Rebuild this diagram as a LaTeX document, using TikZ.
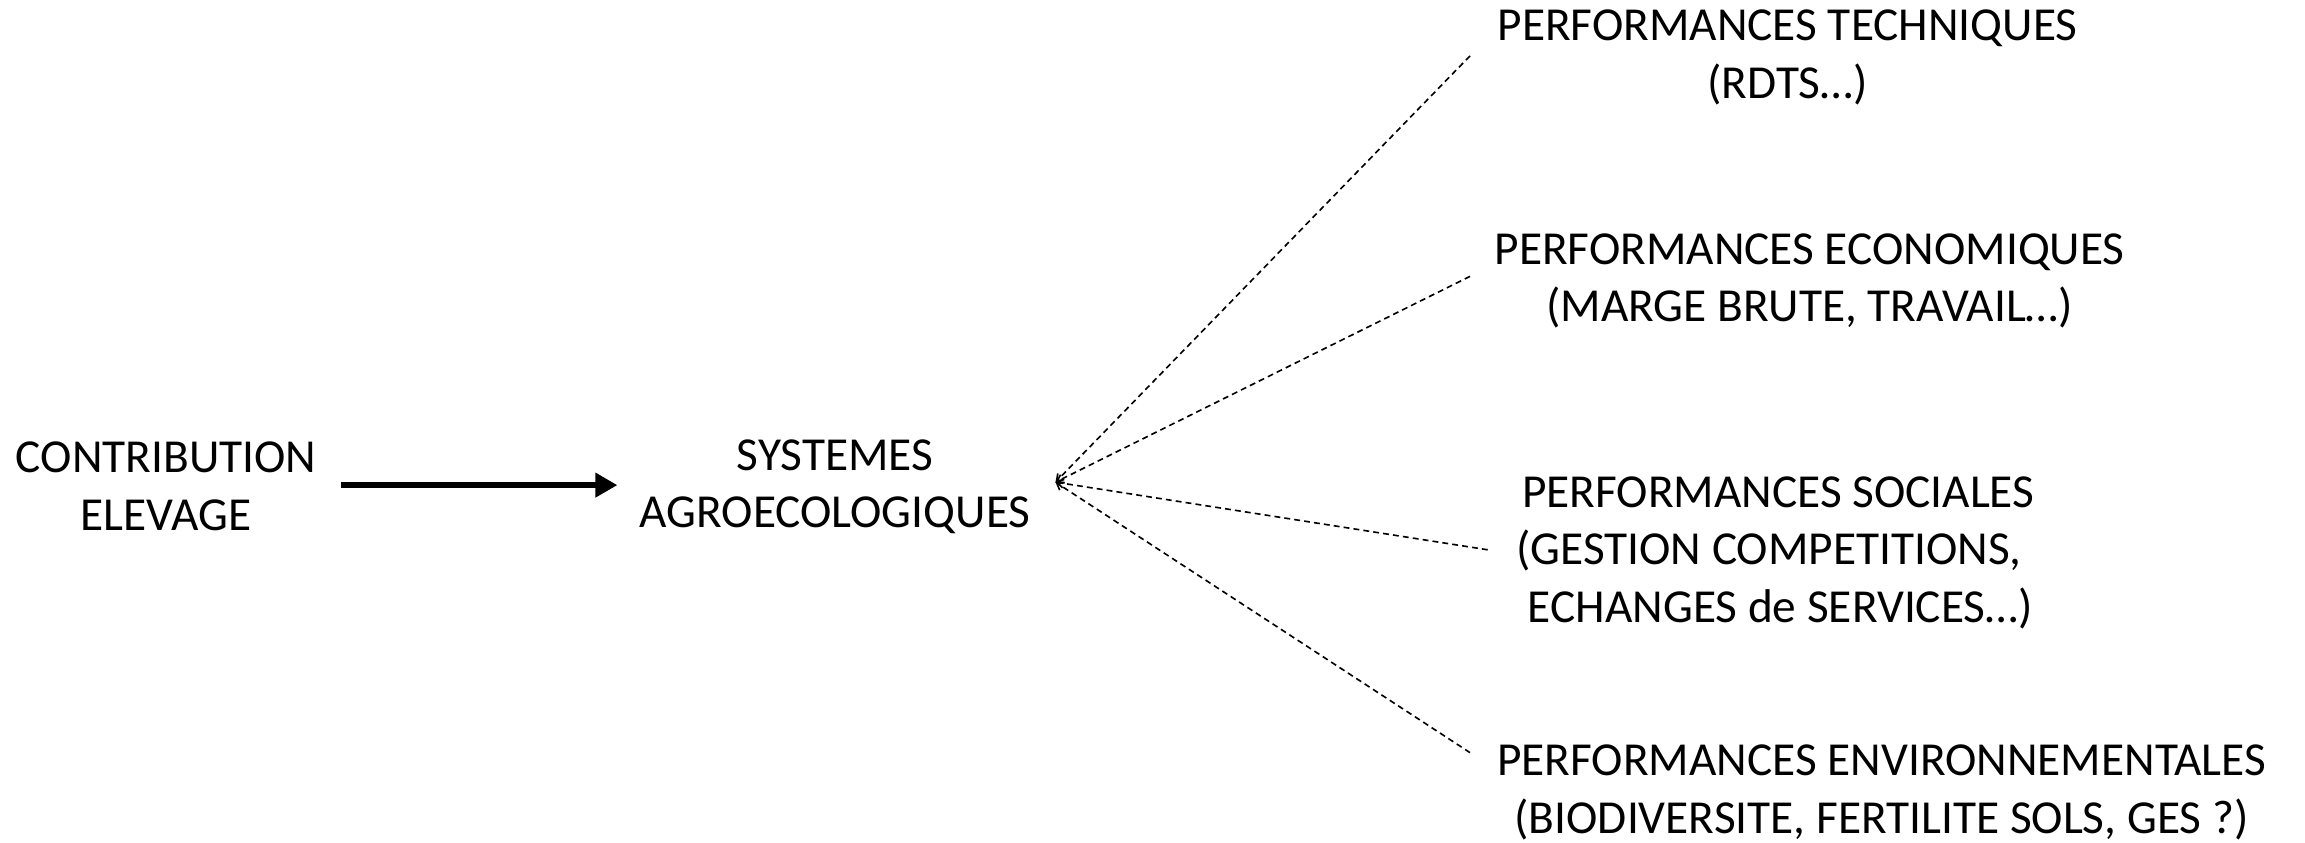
\documentclass[tikz,border=0pt]{standalone}
\usepackage{fontspec}
\setmainfont{Carlito}
\usetikzlibrary{arrows.meta}
\begin{document}
\begin{tikzpicture}[x=0.5pt,y=-0.5pt,
  label/.style={font=\fontsize{16.1}{19.6}\selectfont, align=center, inner sep=0pt},
  mainarrow/.style={line width=2.3pt, -{Triangle[length=7.5pt,width=8pt]}},
  spoke/.style={line width=0.55pt, dash pattern=on 2pt off 1.4pt, -{Straight Barb[length=2.2pt,width=3pt]}}]
  \useasboundingbox (0,0) rectangle (1568,573);
  % left side: source and target of the main arrow
  \node[label] (contrib) at (113,331) {CONTRIBUTION\\ELEVAGE};
  \node[label] (sys) at (568,331) {SYSTEMES\\AGROECOLOGIQUES};
  \coordinate (a1) at (232,330);
  \coordinate (a2) at (420,330);
  \draw[mainarrow] (a1) -- (a2);
  % hub from which the performance spokes leave
  \coordinate (hub) at (718,328);
  \coordinate (e1) at (1000,38);
  \coordinate (e2) at (1000,188);
  \coordinate (e3) at (1012,374);
  \coordinate (e4) at (1000,512);
  \foreach \e in {e1,e2,e3,e4} \draw[spoke] (\e) -- (hub);
  % performance families
  \node[label] (tech) at (1216,39) {PERFORMANCES TECHNIQUES\\(RDTS…)};
  \node[label] (eco) at (1231,191) {PERFORMANCES ECONOMIQUES\\(MARGE BRUTE, TRAVAIL…)};
  \node[label, align=left, anchor=west] (soc) at (1031,376) {\hspace*{2pt}PERFORMANCES SOCIALES\\(GESTION COMPETITIONS,\\\hspace*{4pt}ECHANGES de SERVICES…)};
  \node[label] (env) at (1280,539) {PERFORMANCES ENVIRONNEMENTALES\\(BIODIVERSITE, FERTILITE SOLS, GES ?)};
\end{tikzpicture}
\end{document}
